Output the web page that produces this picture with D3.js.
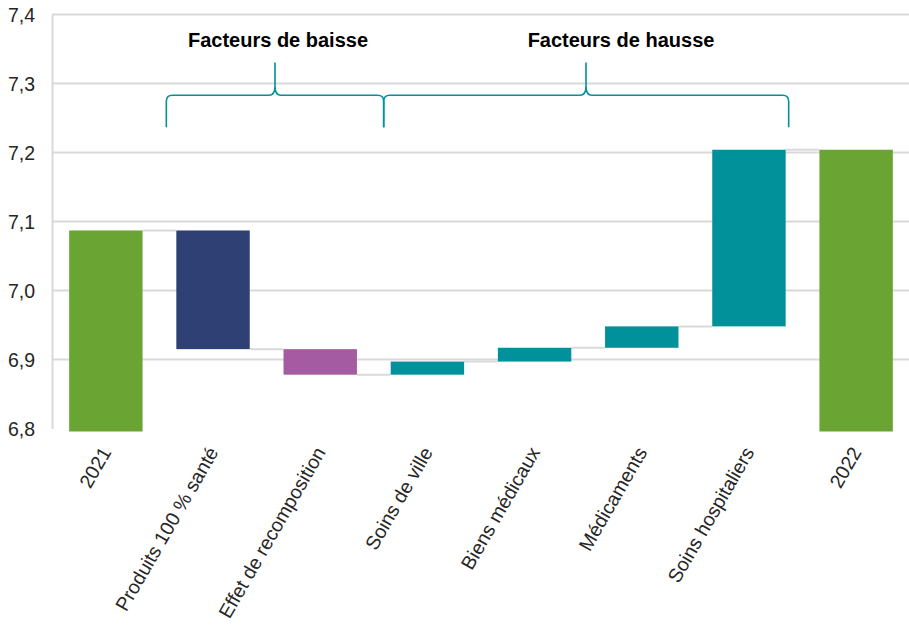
<!DOCTYPE html>
<html lang="fr">
<head>
<meta charset="UTF-8">
<script src="https://d3js.org/d3.v7.min.js"></script>
<style>
body { margin: 0; background: #fff; }
svg text { font-family: "Liberation Sans", Arial, sans-serif; fill: #262626; }
</style>
</head>
<body>
<svg id="chart" width="909" height="628"></svg>
<script>
// données
var categories = ["2021", "Produits 100 % santé", "Effet de recomposition", "Soins de ville",
                  "Biens médicaux", "Médicaments", "Soins hospitaliers", "2022"]
var startValue = 7.087
var deltas = [-0.172, -0.037, 0.019, 0.020, 0.031, 0.256]
var endValue = 7.204
var yTicks = [6.8, 6.9, 7.0, 7.1, 7.2, 7.3, 7.4]
var groups = [
    {label: "Facteurs de baisse", from: "Produits 100 % santé", to: "Soins de ville"},
    {label: "Facteurs de hausse", from: "Soins de ville", to: "Soins hospitaliers"}
]

var colors = {
    "2021": "#6aa533", "2022": "#6aa533",
    "Produits 100 % santé": "#2e4074",
    "Effet de recomposition": "#a55ba1"
}
var teal = "#00919a"
var grid = "#d9d9d9"

var svg = d3.select("#chart")

var x = d3.scaleBand()
    .domain(categories)
    .range([52, 910])
    .paddingInner(0.315)
    .paddingOuter(0.16)

var y = d3.scaleLinear()
    .domain([6.8, 7.4])
    .range([428.5, 14.5])

// build the waterfall steps
var bars = []
var level = startValue
bars.push({cat: categories[0], y0: 6.8, y1: startValue, end: startValue, total: true})
deltas.forEach(function(d, i) {
    var next = level + d
    bars.push({cat: categories[i + 1], y0: level, y1: next, end: next})
    level = next
})
bars.push({cat: categories[categories.length - 1], y0: 6.8, y1: endValue, end: endValue, total: true})

// gridlines
svg.append("g")
    .selectAll("line")
    .data(yTicks.slice(1))
    .enter().append("line")
    .attr("x1", 52).attr("x2", 909)
    .attr("y1", d => y(d)).attr("y2", d => y(d))
    .attr("stroke", grid).attr("stroke-width", 2)

// y axis
var yAxis = d3.axisLeft(y)
    .tickValues(yTicks)
    .tickSize(0)
    .tickPadding(17)
    .tickFormat(d => d3.format(".1f")(d).replace(".", ","))

svg.append("g")
    .attr("transform", "translate(52,0)")
    .call(yAxis)
    .call(g => g.select(".domain").attr("stroke", grid).attr("stroke-width", 2))
    .call(g => g.selectAll("text").style("font-size", "19.5px").attr("dy", "0.36em"))

// connectors
svg.append("g")
    .selectAll("line")
    .data(bars.slice(0, -1))
    .enter().append("line")
    .attr("x1", d => x(d.cat) + x.bandwidth())
    .attr("x2", (d, i) => x(bars[i + 1].cat))
    .attr("y1", d => y(d.end)).attr("y2", d => y(d.end))
    .attr("stroke", grid).attr("stroke-width", 2)

// bars (totals run a little past the axis base, as in the original)
svg.append("g")
    .selectAll("rect")
    .data(bars)
    .enter().append("rect")
    .attr("x", d => x(d.cat))
    .attr("width", x.bandwidth())
    .attr("y", d => y(Math.max(d.y0, d.y1)))
    .attr("height", d => Math.abs(y(d.y0) - y(d.y1)) + (d.total ? 3 : 0))
    .attr("fill", d => colors[d.cat] || teal)

// x labels
svg.append("g")
    .selectAll("text")
    .data(categories)
    .enter().append("text")
    .attr("text-anchor", "end")
    .attr("transform", d => `translate(${x(d) + x.bandwidth() / 2 + 6},452) rotate(-60)`)
    .style("font-size", "19.5px")
    .text(d => d)

// braces
var yBottom = y(7.2365), yMid = y(7.283), yTop = y(7.3305)
function brace(xl, xc, xr) {
    var r = 6
    return `M${xl},${yBottom} L${xl},${yMid + r} Q${xl},${yMid} ${xl + r},${yMid}` +
        ` L${xc - r},${yMid} Q${xc},${yMid} ${xc},${yMid - 9} L${xc},${yTop}` +
        ` M${xc},${yMid - 9} Q${xc},${yMid} ${xc + r},${yMid}` +
        ` L${xr - r},${yMid} Q${xr},${yMid} ${xr},${yMid + r} L${xr},${yBottom}`
}
var braceLeft = x(groups[0].from) - 10
var braceMid = x(groups[0].to) - 7
var braceRight = x(groups[1].to) + x.bandwidth() + 3

svg.append("path")
    .attr("d", brace(braceLeft, 275, braceMid))
    .attr("fill", "none").attr("stroke", teal).attr("stroke-width", 1.6)
svg.append("path")
    .attr("d", brace(braceMid, 586, braceRight))
    .attr("fill", "none").attr("stroke", teal).attr("stroke-width", 1.6)

svg.append("text")
    .attr("x", 278).attr("y", 47)
    .attr("text-anchor", "middle")
    .style("font-size", "20px").style("font-weight", "bold").style("fill", "#000")
    .text(groups[0].label)
svg.append("text")
    .attr("x", 621).attr("y", 47)
    .attr("text-anchor", "middle")
    .style("font-size", "20px").style("font-weight", "bold").style("fill", "#000")
    .text(groups[1].label)
</script>
</body>
</html>
